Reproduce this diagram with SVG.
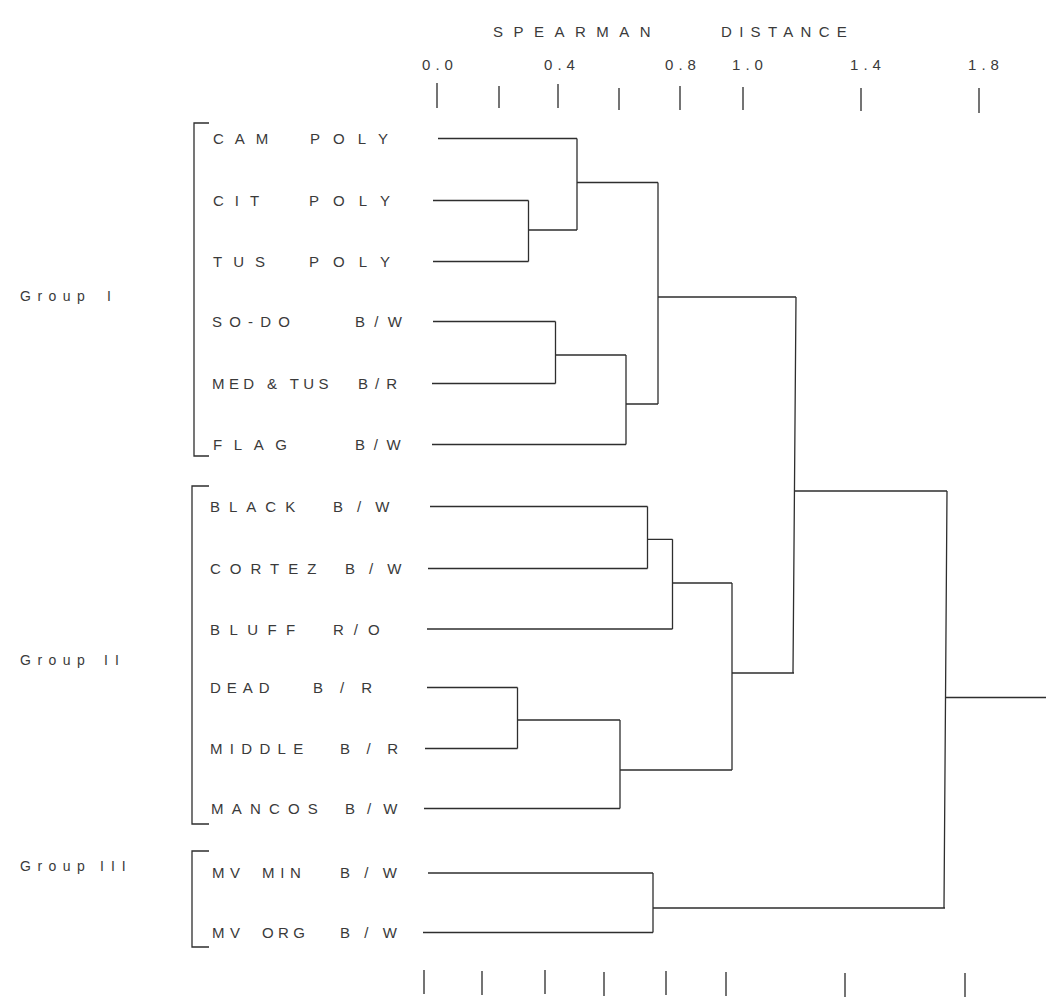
<svg xmlns="http://www.w3.org/2000/svg" width="1046" height="1004" viewBox="0 0 1046 1004">
<style>
  .t { font-family: "Liberation Sans", Arial, sans-serif; font-size: 15px; fill: #3a3a3a; }
  .g { font-family: "Liberation Sans", Arial, sans-serif; font-size: 14px; fill: #3a3a3a; }
  .ln { fill: none; stroke: #2e2e2e; stroke-width: 1.3; }
  .tk { fill: none; stroke: #3a3a3a; stroke-width: 1.4; }
</style>
<rect width="1046" height="1004" fill="#ffffff"/>

<g id="axis-top">
  <text class="t"><tspan x="493" y="37" letter-spacing="10.5">SPEARMAN </tspan><tspan x="721" y="37" letter-spacing="7.3">DISTANCE</tspan></text>
  <g text-anchor="middle" letter-spacing="5">
    <text class="t" x="440" y="70">0.0</text>
    <text class="t" x="562" y="70">0.4</text>
    <text class="t" x="683" y="70">0.8</text>
    <text class="t" x="750" y="70">1.0</text>
    <text class="t" x="868" y="70">1.4</text>
    <text class="t" x="986" y="70">1.8</text>
  </g>
  <path class="tk" d="M437,83V108 M499,86V108 M558,84V108 M619,88V110 M680,86V110 M743,87V110 M861,88V111 M979,88V113"/>
</g>

<g id="axis-bottom">
  <path class="tk" d="M424,970V994 M482,971V995 M545,970V994 M604,972V996 M666,971V995 M726,972V996 M845,973V997 M965,973V997"/>
</g>

<g id="group-I">
  <path class="ln" d="M209,123H194V456H209"/>
  <text class="g" y="301"><tspan x="20" letter-spacing="6.5">Group </tspan><tspan x="107">I</tspan></text>
</g>
<g id="group-II">
  <path class="ln" d="M209,486H192V824H209"/>
  <text class="g" y="665"><tspan x="20" letter-spacing="6.5">Group </tspan><tspan x="104" letter-spacing="7">II</tspan></text>
</g>
<g id="group-III">
  <path class="ln" d="M209,851H192V947H209"/>
  <text class="g" y="871"><tspan x="20" letter-spacing="6.5">Group </tspan><tspan x="100" letter-spacing="7">III</tspan></text>
</g>

<g id="leaf-cam-poly"><text class="t" y="144"><tspan x="213" letter-spacing="11">CAM </tspan><tspan x="310" letter-spacing="13">POLY</tspan></text></g>
<g id="leaf-cit-poly"><text class="t" y="206"><tspan x="213" letter-spacing="11">CIT </tspan><tspan x="309" letter-spacing="14">POLY</tspan></text></g>
<g id="leaf-tus-poly"><text class="t" y="267"><tspan x="213" letter-spacing="11">TUS </tspan><tspan x="309" letter-spacing="14">POLY</tspan></text></g>
<g id="leaf-so-do"><text class="t" y="327"><tspan x="212" letter-spacing="7.2">SO-DO </tspan><tspan x="355" letter-spacing="9.3">B/W</tspan></text></g>
<g id="leaf-med-tus"><text class="t" y="389"><tspan x="212" letter-spacing="4.4">MED &amp; TUS </tspan><tspan x="358" letter-spacing="7">B/R</tspan></text></g>
<g id="leaf-flag"><text class="t" y="450"><tspan x="213" letter-spacing="11.6">FLAG </tspan><tspan x="355" letter-spacing="8.7">B/W</tspan></text></g>
<g id="leaf-black"><text class="t" y="512"><tspan x="210" letter-spacing="9">BLACK </tspan><tspan x="333" letter-spacing="14">B/W</tspan></text></g>
<g id="leaf-cortez"><text class="t" y="574"><tspan x="210" letter-spacing="9">CORTEZ </tspan><tspan x="345" letter-spacing="14">B/W</tspan></text></g>
<g id="leaf-bluff"><text class="t" y="635"><tspan x="210" letter-spacing="9.4">BLUFF </tspan><tspan x="333" letter-spacing="10">R/O</tspan></text></g>
<g id="leaf-dead"><text class="t" y="693"><tspan x="210" letter-spacing="6">DEAD </tspan><tspan x="313" letter-spacing="17">B/R</tspan></text></g>
<g id="leaf-middle"><text class="t" y="754"><tspan x="210" letter-spacing="7.3">MIDDLE </tspan><tspan x="340" letter-spacing="16.5">B/R</tspan></text></g>
<g id="leaf-mancos"><text class="t" y="814"><tspan x="211" letter-spacing="8.2">MANCOS </tspan><tspan x="345" letter-spacing="12">B/W</tspan></text></g>
<g id="leaf-mv-min"><text class="t" y="878"><tspan x="212" letter-spacing="5.5">MV </tspan><tspan x="262" letter-spacing="5.7">MIN </tspan><tspan x="340" letter-spacing="14.3">B/W</tspan></text></g>
<g id="leaf-mv-org"><text class="t" y="938"><tspan x="212" letter-spacing="5.5">MV </tspan><tspan x="262" letter-spacing="4.4">ORG </tspan><tspan x="340" letter-spacing="14.3">B/W</tspan></text></g>

<g id="connectors" class="ln">
  <path d="M438,138.5H577"/>
  <path d="M433,200.5H528.5"/>
  <path d="M433,261.5H528.5"/>
  <path d="M433,321.5H555.5"/>
  <path d="M432,383.5H555.5"/>
  <path d="M432,444.5H626"/>
  <path d="M430,506.5H647.5"/>
  <path d="M428,568.5H647.5"/>
  <path d="M427,629H672.5"/>
  <path d="M427,687.5H517.5"/>
  <path d="M425,748.5H517.5"/>
  <path d="M424,808.5H620"/>
  <path d="M428,873H653"/>
  <path d="M423,932.5H653"/>

  <path d="M528.5,200.5V261.5 M528.5,230H577"/>
  <path d="M577,138.5V230 M577,182.5H658"/>
  <path d="M555.5,321.5V383.5 M555.5,355H626"/>
  <path d="M626,355V444.5 M626,404H658"/>
  <path d="M658,182.5V404 M658,297H796"/>
  <path d="M647.5,506.5V568.5 M647.5,539.3H672.5"/>
  <path d="M672.5,539.3V629 M672.5,583H732"/>
  <path d="M517.5,687.5V748.5 M517.5,720H620"/>
  <path d="M620,720V808.5 M620,770H732"/>
  <path d="M732,583V770 M732,673H794"/>
  <path d="M796,297L793,673 M795,491H947"/>
  <path d="M653,873V932.5 M653,908H945"/>
  <path d="M947,491L944,908 M945,697.5H1046"/>
</g>
</svg>
